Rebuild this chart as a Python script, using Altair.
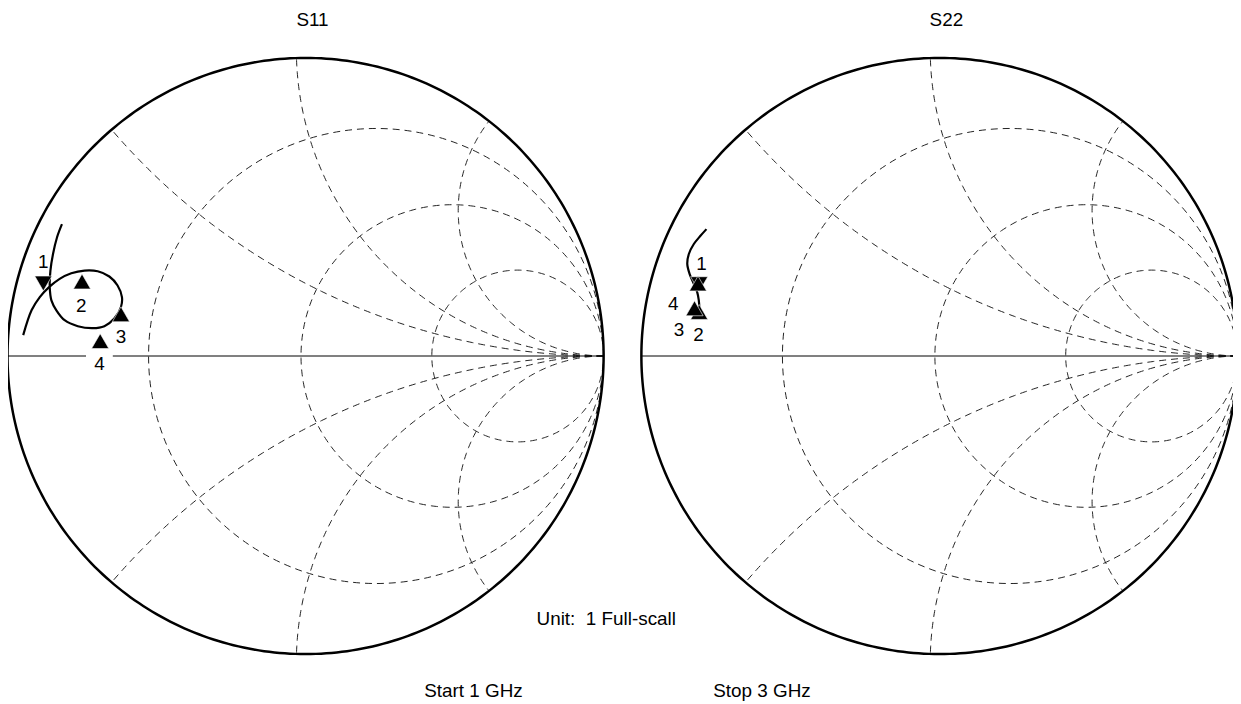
import altair as alt
import numpy as np
import pandas as pd

# ---------------- values (reflection-coefficient plane) ----------------
panel_titles = ["S11", "S22"]
panel_offsets = [0.0, 2.1267]          # second chart sits to the right of the first
r_grid = [0.31, 0.97, 2.47]            # constant-resistance circles
x_grid = [0.46, 0.97, 2.05]            # constant-reactance arcs (drawn for +x and -x)

s11_re = [-0.8173, -0.834, -0.8473, -0.856, -0.8583, -0.8527, -0.836, -0.8083, -0.764, -0.714,
          -0.675, -0.6417, -0.6193, -0.616, -0.6307, -0.6583, -0.6973, -0.7417, -0.786, -0.825,
          -0.8607, -0.8917, -0.9193, -0.9473]
s11_im = [0.4423, 0.3977, 0.3423, 0.2867, 0.231, 0.1867, 0.1533, 0.12, 0.1, 0.0933,
          0.1, 0.1257, 0.1643, 0.1977, 0.2367, 0.2667, 0.2843, 0.2867, 0.2777, 0.259,
          0.231, 0.1977, 0.1533, 0.07]

s22_re = [-0.7817, -0.8017, -0.824, -0.8407, -0.846, -0.8383, -0.824, -0.8127, -0.8073, -0.805]
s22_im = [0.4257, 0.4033, 0.3757, 0.3423, 0.309, 0.2757, 0.2423, 0.2143, 0.1867, 0.1533]

marker_ids = ["1", "2", "3", "4"]
marker_shapes = ["triangle-down", "triangle-up", "triangle-up", "triangle-up"]
s11_marker_re = [-0.8797, -0.75, -0.6193, -0.689]
s11_marker_im = [0.2433, 0.25, 0.14, 0.05]
s11_label_re = [-0.8797, -0.7527, -0.6193, -0.6917]
s11_label_im = [0.3143, 0.1667, 0.0643, -0.0277]

s22_marker_re = [-0.806, -0.806, -0.8217, -0.81]
s22_marker_im = [0.241, 0.1477, 0.16, 0.2433]
s22_label_re = [-0.7983, -0.8083, -0.874, -0.8927]
s22_label_im = [0.309, 0.07, 0.0867, 0.1757]

note_text = ["Unit:\u00a0 1 Full-scall"]
note_re = [0.775]
note_im = [-0.8833]
sweep_texts = ["Start 1 GHz", "Stop 3 GHz"]
sweep_re = [0.398, 1.368]
sweep_im = [-1.1233, -1.1233]
title_re = [0.0233, 0.0233]
title_im = [1.127, 1.127]

# ---------------- layout ----------------
W, H = 1233, 696
X0 = -0.99833
X1 = X0 + W / 300.0
Y1 = 1.16
Y0 = Y1 - H / 300.0
FONT = "Liberation Sans"

xs = alt.Scale(domain=[X0, X1], nice=False, zero=False)
ys = alt.Scale(domain=[Y0, Y1], nice=False, zero=False)

# ---------------- geometry of the chart grid ----------------
outer_rows, grid_rows, axis_rows = [], [], []
t = np.linspace(0, 2 * np.pi, 361)
cid = 0
for p, off in enumerate(panel_offsets):
    for i, a in enumerate(t):
        outer_rows.append({"gx": off + np.cos(a), "gy": np.sin(a), "cid": p, "ord": i})
    axis_rows += [{"gx": off - 1, "gy": 0, "cid": p, "ord": 0},
                  {"gx": off + 1, "gy": 0, "cid": p, "ord": 1}]
    for r in r_grid:
        c, rad = r / (1 + r), 1 / (1 + r)
        for i, a in enumerate(t):
            grid_rows.append({"gx": off + c + rad * np.cos(a), "gy": rad * np.sin(a),
                              "cid": cid, "ord": i})
        cid += 1
    for xv in x_grid:
        ex, ey = (xv ** 2 - 1) / (xv ** 2 + 1), 2 * xv / (xv ** 2 + 1)
        end = np.arctan2(ey - 1 / xv, ex - 1)
        if end > -np.pi / 2:
            end -= 2 * np.pi
        angs = np.linspace(-np.pi / 2, end, 200)
        for sgn in (1, -1):
            for i, a in enumerate(angs):
                grid_rows.append({"gx": off + 1 + np.cos(a) / xv,
                                  "gy": sgn * (1 / xv + np.sin(a) / xv),
                                  "cid": cid, "ord": i})
            cid += 1

outer_df = pd.DataFrame(outer_rows)
grid_df = pd.DataFrame(grid_rows)
axis_df = pd.DataFrame(axis_rows)

trace_df = pd.concat([
    pd.DataFrame({"gx": np.array(s11_re) + panel_offsets[0], "gy": s11_im,
                  "tr": "S11", "ord": range(len(s11_re))}),
    pd.DataFrame({"gx": np.array(s22_re) + panel_offsets[1], "gy": s22_im,
                  "tr": "S22", "ord": range(len(s22_re))}),
])

marker_df = pd.concat([
    pd.DataFrame({"gx": np.array(s11_marker_re) + panel_offsets[0], "gy": s11_marker_im,
                  "shape": marker_shapes, "id": marker_ids}),
    pd.DataFrame({"gx": np.array(s22_marker_re) + panel_offsets[1], "gy": s22_marker_im,
                  "shape": marker_shapes, "id": marker_ids}),
])
label_df = pd.concat([
    pd.DataFrame({"gx": np.array(s11_label_re) + panel_offsets[0], "gy": s11_label_im,
                  "id": marker_ids}),
    pd.DataFrame({"gx": np.array(s22_label_re) + panel_offsets[1], "gy": s22_label_im,
                  "id": marker_ids}),
])
title_df = pd.DataFrame({"gx": np.array(title_re) + np.array(panel_offsets), "gy": title_im,
                         "txt": panel_titles})
note_df = pd.DataFrame({"gx": note_re, "gy": note_im, "txt": note_text})
sweep_df = pd.DataFrame({"gx": sweep_re, "gy": sweep_im, "txt": sweep_texts})

X = lambda: alt.X("gx:Q", scale=xs, axis=None)
Y = lambda: alt.Y("gy:Q", scale=ys, axis=None)

grid = alt.Chart(grid_df).mark_line(color="#222222", strokeWidth=1, strokeDash=[7, 5]).encode(
    x=X(), y=Y(), detail="cid:N", order="ord:Q")
axis = alt.Chart(axis_df).mark_line(color="black", strokeWidth=1).encode(
    x=X(), y=Y(), detail="cid:N", order="ord:Q")
outer = alt.Chart(outer_df).mark_line(color="black", strokeWidth=2.5).encode(
    x=X(), y=Y(), detail="cid:N", order="ord:Q")
trace = alt.Chart(trace_df).mark_line(color="black", strokeWidth=2.2,
                                      interpolate="catmull-rom").encode(
    x=X(), y=Y(), detail="tr:N", order="ord:Q")
markers = alt.Chart(marker_df).mark_point(filled=True, fill="black", stroke="white",
                                          strokeWidth=0.6, size=300, opacity=1).encode(
    x=X(), y=Y(), shape=alt.Shape("shape:N", scale=None))
label_bg = alt.Chart(label_df).mark_point(filled=True, fill="white", strokeWidth=0, opacity=1,
                                          shape="M-1,-0.8H1V0.8H-1Z", size=729).encode(
    x=X(), y=Y())
labels = alt.Chart(label_df).mark_text(font=FONT, fontSize=19, color="black",
                                       baseline="middle", align="center").encode(
    x=X(), y=Y(), text="id:N")
titles = alt.Chart(title_df).mark_text(font=FONT, fontSize=19, color="black",
                                       baseline="middle", align="center").encode(
    x=X(), y=Y(), text="txt:N")
note = alt.Chart(note_df).mark_text(font=FONT, fontSize=19, color="black",
                                    baseline="middle", align="left").encode(
    x=X(), y=Y(), text="txt:N")
sweep = alt.Chart(sweep_df).mark_text(font=FONT, fontSize=19, color="black",
                                      baseline="middle", align="left").encode(
    x=X(), y=Y(), text="txt:N")

chart = alt.layer(grid, axis, outer, label_bg, trace, markers, labels, titles, note, sweep
                  ).properties(
    width=W, height=H, padding=0,
    autosize=alt.AutoSizeParams(type="none"),
    background="white",
).configure_view(stroke=None)

chart.save("out.html", embed_options={"renderer": "svg", "actions": False})
